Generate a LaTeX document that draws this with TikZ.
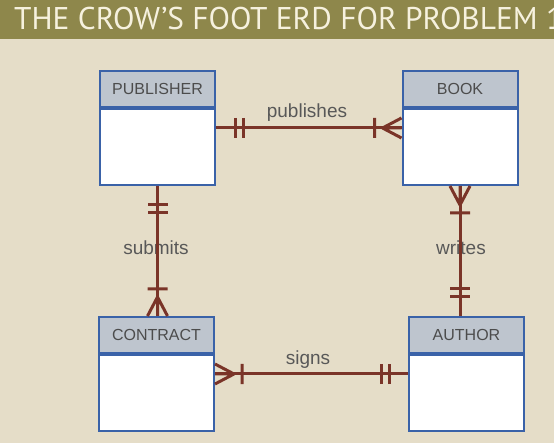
\documentclass[tikz,border=0pt]{standalone}
\usepackage{fontspec}
\newfontfamily\titlefont{PT Sans}
\newfontfamily\erdfont{Liberation Sans}
\usetikzlibrary{positioning}

\definecolor{paper}{RGB}{229,221,200}
\definecolor{banner}{RGB}{142,135,75}
\definecolor{bannertext}{RGB}{246,241,222}
\definecolor{headfill}{RGB}{190,197,206}
\definecolor{boxblue}{RGB}{58,98,168}
\definecolor{relred}{RGB}{122,52,40}
\definecolor{labelgray}{RGB}{88,88,88}

\begin{document}
\begin{tikzpicture}[x=1pt,y=-1pt,
    ehead/.style={draw=boxblue,line width=2pt,fill=headfill,minimum width=115pt,minimum height=36pt,inner sep=0pt,
        font=\erdfont\fontsize{16}{16}\selectfont,text=black!70},
    ebody/.style={draw=boxblue,line width=2pt,fill=white,minimum width=115pt,minimum height=76pt,inner sep=0pt},
    rel/.style={draw=relred,line width=3pt},
    rlabel/.style={font=\erdfont\fontsize{19}{19}\selectfont,text=labelgray,anchor=base,inner sep=0pt},
    twobar/.pic={\draw[rel] (19,-10) -- (19,10) (27,-10) -- (27,10);},
    crowbar/.pic={\draw[rel,line join=round] (0,-10) -- (19,0) -- (0,10) (0,0) -- (19,0) (27,-10) -- (27,10);}]

    % background and banner
    \useasboundingbox (0,0) rectangle (554,443);
    \clip (0,0) rectangle (554,443);
    \fill[paper] (0,0) rectangle (554,443);
    \fill[banner] (0,0) rectangle (554,39);
    \node[anchor=base west,inner sep=0pt,font=\titlefont\fontsize{31.4}{31.4}\selectfont,text=bannertext] (title) at (14,30) {THE CROW’S FOOT ERD FOR PROBLEM 1};

    % entities
    \foreach \name/\ename/\ex/\ey in {publisher/PUBLISHER/157.5/89, book/BOOK/460/89, contract/CONTRACT/156.5/335, author/AUTHOR/466.5/335}{
        \node[ehead] (\name) at (\ex,\ey) {\ename};
        \node[ebody,below=0pt of \name] (\name-body) {};
    }

    % relationship names
    \node[rlabel] (publishes) at (307,118) {publishes};
    \node[rlabel] (submits) at (156,255) {submits};
    \node[rlabel] (writes) at (461,255) {writes};
    \node[rlabel] (signs) at (308,365) {signs};

    % connector ends
    \coordinate (pubA) at ([yshift=-20pt]publisher-body.north east);
    \coordinate (pubB) at ([yshift=-20pt]book-body.north west);
    \coordinate (subA) at (publisher-body.south);
    \coordinate (subB) at (publisher-body.south |- contract.north);
    \coordinate (wriA) at (book-body.south);
    \coordinate (wriB) at (book-body.south |- author.north);
    \coordinate (sigA) at ([yshift=-20pt]contract-body.north east);
    \coordinate (sigB) at ([yshift=-20pt]author-body.north west);

    % relationships
    \draw[rel] (pubA) -- (pubB);
    \draw[rel] (subA) -- (subB);
    \draw[rel] (wriA) -- (wriB);
    \draw[rel] (sigA) -- (sigB);

    % crow's foot marks
    \pic at (pubA) {twobar};
    \pic[rotate=180] at (pubB) {crowbar};
    \pic[rotate=-90] at (subA) {twobar};
    \pic[rotate=90] at (subB) {crowbar};
    \pic[rotate=-90] at (wriA) {crowbar};
    \pic[rotate=90] at (wriB) {twobar};
    \pic at (sigA) {crowbar};
    \pic[rotate=180] at (sigB) {twobar};

\end{tikzpicture}
\end{document}
